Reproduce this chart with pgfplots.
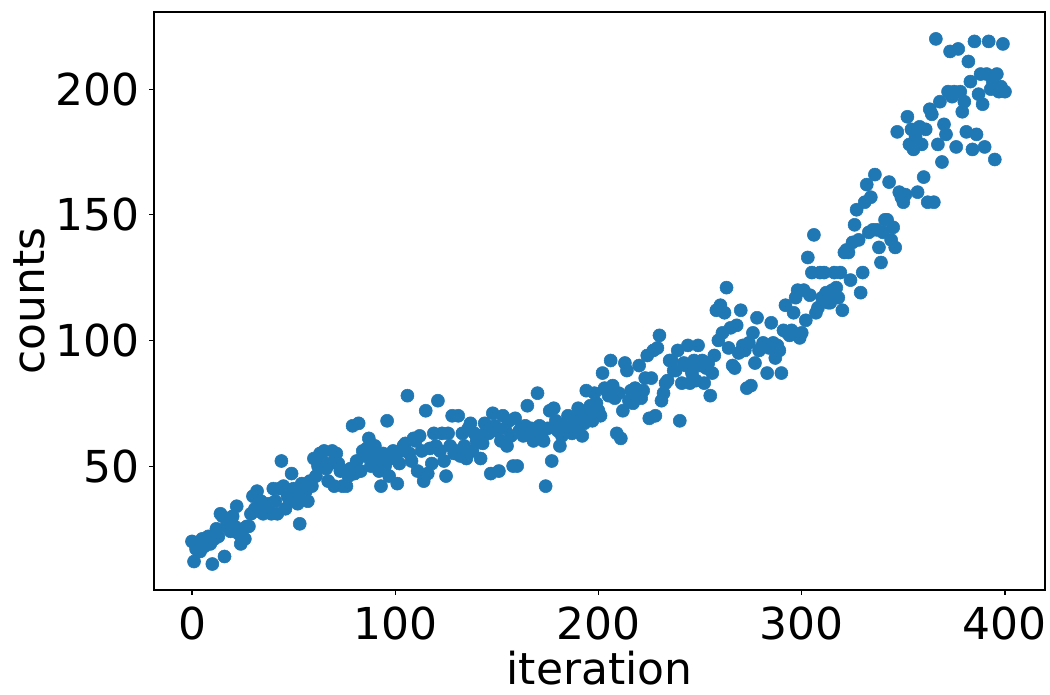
\documentclass[border=0pt]{standalone}
\usepackage{pgfplots}
\usepackage{pgfplotstable}
\pgfplotsset{compat=1.18}
\usepackage{fontspec}
\setmainfont{DejaVu Sans}
\definecolor{tabblue}{HTML}{1F77B4}
\pgfplotstableread[row sep=\\]{
x y\\
0 20\\ 1 12\\ 2 17\\ 3 19\\ 4 16\\ 5 21\\ 6 18\\ 7 20\\ 8 22\\ 9 19\\
10 11\\ 11 21\\ 12 25\\ 13 22\\ 14 31\\ 15 30\\ 16 14\\ 17 26\\ 18 28\\ 19 24\\
20 30\\ 21 26\\ 22 34\\ 23 23\\ 24 19\\ 25 25\\ 26 21\\ 27 26\\ 28 26\\ 29 31\\
30 38\\ 31 33\\ 32 40\\ 33 32\\ 34 36\\ 35 31\\ 36 34\\ 37 33\\ 38 35\\ 39 31\\
40 41\\ 41 36\\ 42 31\\ 43 41\\ 44 52\\ 45 42\\ 46 33\\ 47 38\\ 48 36\\ 49 47\\
50 41\\ 51 37\\ 52 35\\ 53 27\\ 54 43\\ 55 38\\ 56 40\\ 57 36\\ 58 44\\ 59 42\\
60 53\\ 61 46\\ 62 50\\ 63 55\\ 64 52\\ 65 56\\ 66 49\\ 67 44\\ 68 51\\ 69 56\\
70 42\\ 71 55\\ 72 51\\ 73 48\\ 74 42\\ 75 48\\ 76 42\\ 77 46\\ 78 49\\ 79 66\\
80 47\\ 81 52\\ 82 67\\ 83 48\\ 84 56\\ 85 54\\ 86 57\\ 87 61\\ 88 50\\ 89 55\\
90 58\\ 91 52\\ 92 48\\ 93 42\\ 94 55\\ 95 50\\ 96 68\\ 97 46\\ 98 53\\ 99 56\\
100 54\\ 101 43\\ 102 51\\ 103 56\\ 104 58\\ 105 59\\ 106 78\\ 107 55\\ 108 52\\ 109 61\\
110 60\\ 111 48\\ 112 62\\ 113 56\\ 114 44\\ 115 72\\ 116 47\\ 117 57\\ 118 51\\ 119 63\\
120 58\\ 121 76\\ 122 56\\ 123 63\\ 124 52\\ 125 46\\ 126 63\\ 127 58\\ 128 70\\ 129 55\\
130 56\\ 131 70\\ 132 54\\ 133 63\\ 134 58\\ 135 53\\ 136 65\\ 137 67\\ 138 56\\ 139 63\\
140 60\\ 141 62\\ 142 53\\ 143 59\\ 144 67\\ 145 64\\ 146 63\\ 147 47\\ 148 71\\ 149 66\\
150 64\\ 151 48\\ 152 60\\ 153 70\\ 154 65\\ 155 58\\ 156 68\\ 157 62\\ 158 50\\ 159 69\\
160 50\\ 161 64\\ 162 65\\ 163 62\\ 164 66\\ 165 74\\ 166 64\\ 167 65\\ 168 60\\ 169 64\\
170 79\\ 171 66\\ 172 62\\ 173 60\\ 174 42\\ 175 65\\ 176 72\\ 177 52\\ 178 73\\ 179 68\\
180 64\\ 181 58\\ 182 62\\ 183 66\\ 184 67\\ 185 70\\ 186 68\\ 187 63\\ 188 66\\ 189 65\\
190 73\\ 191 70\\ 192 62\\ 193 67\\ 194 80\\ 195 72\\ 196 74\\ 197 68\\ 198 79\\ 199 75\\
200 72\\ 201 70\\ 202 87\\ 203 81\\ 204 80\\ 205 78\\ 206 92\\ 207 82\\ 208 77\\ 209 63\\
210 79\\ 211 61\\ 212 72\\ 213 91\\ 214 88\\ 215 76\\ 216 80\\ 217 75\\ 218 81\\ 219 78\\
220 90\\ 221 77\\ 222 80\\ 223 85\\ 224 94\\ 225 69\\ 226 85\\ 227 96\\ 228 70\\ 229 97\\
230 102\\ 231 76\\ 232 79\\ 233 83\\ 234 84\\ 235 92\\ 236 92\\ 237 88\\ 238 88\\ 239 96\\
240 68\\ 241 83\\ 242 91\\ 243 90\\ 244 98\\ 245 83\\ 246 87\\ 247 92\\ 248 84\\ 249 98\\
250 90\\ 251 92\\ 252 83\\ 253 89\\ 254 91\\ 255 78\\ 256 87\\ 257 94\\ 258 112\\ 259 100\\
260 114\\ 261 103\\ 262 111\\ 263 121\\ 264 97\\ 265 105\\ 266 90\\ 267 89\\ 268 106\\ 269 95\\
270 112\\ 271 98\\ 272 96\\ 273 81\\ 274 99\\ 275 82\\ 276 103\\ 277 91\\ 278 109\\ 279 96\\
280 97\\ 281 99\\ 282 98\\ 283 87\\ 284 97\\ 285 107\\ 286 99\\ 287 93\\ 288 98\\ 289 96\\
290 87\\ 291 104\\ 292 114\\ 293 103\\ 294 102\\ 295 104\\ 296 111\\ 297 117\\ 298 120\\ 299 101\\
300 103\\ 301 120\\ 302 108\\ 303 133\\ 304 118\\ 305 127\\ 306 142\\ 307 111\\ 308 113\\ 309 127\\
310 117\\ 311 127\\ 312 119\\ 313 115\\ 314 115\\ 315 120\\ 316 127\\ 317 121\\ 318 117\\ 319 127\\
320 112\\ 321 135\\ 322 136\\ 323 135\\ 324 124\\ 325 139\\ 326 146\\ 327 152\\ 328 140\\ 329 119\\
330 127\\ 331 155\\ 332 162\\ 333 143\\ 334 157\\ 335 144\\ 336 166\\ 337 144\\ 338 137\\ 339 131\\
340 143\\ 341 148\\ 342 148\\ 343 163\\ 344 140\\ 345 145\\ 346 137\\ 347 183\\ 348 159\\ 349 157\\
350 155\\ 351 158\\ 352 189\\ 353 178\\ 354 184\\ 355 176\\ 356 181\\ 357 159\\ 358 185\\ 359 178\\
360 165\\ 361 184\\ 362 155\\ 363 192\\ 364 190\\ 365 155\\ 366 220\\ 367 178\\ 368 195\\ 369 171\\
370 186\\ 371 182\\ 372 199\\ 373 215\\ 374 197\\ 375 199\\ 376 177\\ 377 216\\ 378 199\\ 379 191\\
380 195\\ 381 183\\ 382 211\\ 383 203\\ 384 176\\ 385 219\\ 386 182\\ 387 198\\ 388 206\\ 389 194\\
390 177\\ 391 206\\ 392 219\\ 393 200\\ 394 203\\ 395 172\\ 396 206\\ 397 199\\ 398 201\\ 399 218\\
400 199\\
}\datatable
\begin{document}
\begin{tikzpicture}
\useasboundingbox (-115.5pt,-78pt) rectangle (672pt,442.5pt);
\begin{axis}[
  at={(0,0)}, anchor=south west,
  scale only axis,
  width=668.25pt, height=433.5pt,
  xmin=-18.7, xmax=419.7,
  ymin=0.66, ymax=230.7,
  xtick={0,100,200,300,400},
  ytick={50,100,150,200},
  xtick pos=bottom, ytick pos=left,
  tick align=outside,
  major tick length=3.7pt,
  tick style={black, line width=0.8pt},
  axis line style={black, line width=0.8pt},
  /pgf/number format/assume math mode=true,
  /pgf/number format/1000 sep={},
  ticklabel style={font=\fontsize{33}{40}\selectfont},
  xticklabel style={inner sep=0pt, anchor=north, yshift=-9pt},
  yticklabel style={inner sep=0pt, anchor=east, xshift=-7pt},
  xlabel={iteration},
  ylabel={counts},
  label style={font=\fontsize{33}{40}\selectfont},
  xlabel style={at={([yshift=-71pt]axis description cs:0.5,0)}, anchor=base},
  ylabel style={at={([xshift=-81.75pt]axis description cs:0,0.5)}, anchor=base},
]
\addplot[only marks, mark=*, mark size=4.9pt, color=tabblue, mark options={draw=none, fill=tabblue}] table[x=x, y=y] {\datatable};
\end{axis}
\end{tikzpicture}
\end{document}
